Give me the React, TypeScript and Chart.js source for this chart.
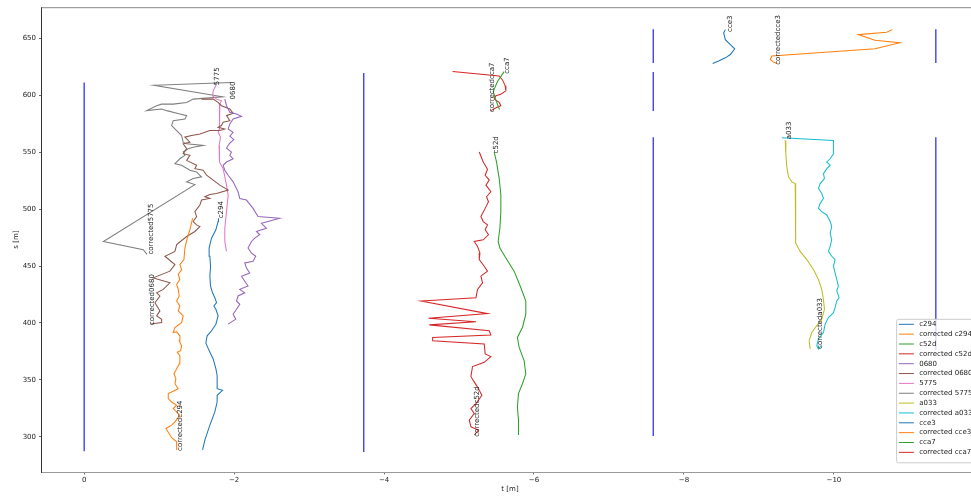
import { useEffect, useRef } from "react";
import { Chart, registerables } from "chart.js";

Chart.register(...registerables);

const FONT = '"DejaVu Sans", sans-serif';

// ---- axes ----
const X_TICKS = [0, -2, -4, -6, -8, -10];
const Y_TICKS = [300, 350, 400, 450, 500, 550, 600, 650];
const X_MIN = -11.93;
const X_MAX = 0.57;
const Y_MIN = 269;
const Y_MAX = 677.5;

// ---- series (t = lateral position [m], s = station [m]) ----
const C294_T = [-1.580,-1.610,-1.677,-1.743,-1.774,-1.774,-1.846,-1.774,-1.774,-1.774,-1.757,-1.721,-1.667,-1.623,-1.641,-1.699,-1.757,-1.787,-1.757,-1.730,-1.766,-1.743,-1.713,-1.686,-1.677,-1.686,-1.677,-1.667,-1.699,-1.757,-1.787,-1.792];
const C294_S = [288.4,297.1,310.2,321.8,330.5,336.4,340.8,342.2,348.0,353.8,359.9,368.4,375.7,382.4,388.7,393.1,398.9,406.2,412.0,414.9,417.8,422.2,426.5,432.4,441.1,449.8,458.6,465.8,474.5,481.9,489.1,492.0];

const CC294_T = [-1.234,-1.234,-1.167,-1.091,-1.167,-1.211,-1.277,-1.188,-1.234,-1.167,-1.122,-1.122,-1.188,-1.255,-1.211,-1.224,-1.198,-1.234,-1.268,-1.277,-1.242,-1.287,-1.300,-1.268,-1.277,-1.234,-1.188,-1.211,-1.300,-1.321,-1.255,-1.277,-1.234,-1.268,-1.255,-1.234,-1.277,-1.255,-1.300,-1.277,-1.331,-1.344,-1.365,-1.388,-1.411,-1.446];
const CC294_S = [288.4,295.6,299.1,307.3,310.2,313.1,318.9,324.8,327.7,330.5,333.5,337.9,339.9,342.2,346.6,351.0,355.3,359.7,364.0,371.3,374.2,375.7,380.0,384.4,388.7,392.2,391.6,396.0,400.3,406.2,410.6,414.9,419.3,423.7,429.5,433.9,438.2,442.6,446.9,451.3,455.7,465.8,471.6,477.5,481.8,492.0];

const C52D_T = [-5.793,-5.793,-5.779,-5.793,-5.846,-5.891,-5.868,-5.802,-5.779,-5.846,-5.891,-5.891,-5.825,-5.735,-5.625,-5.545,-5.522,-5.545,-5.558,-5.558,-5.536,-5.500,-5.469];
const C52D_S = [301.5,314.6,326.2,337.9,346.6,355.3,366.9,378.5,387.3,396.0,407.7,419.3,430.9,445.5,457.1,465.8,471.6,483.2,497.8,512.4,526.9,541.5,550.2];

const CC52D_T = [-5.270,-5.323,-5.380,-5.349,-5.403,-5.359,-5.425,-5.367,-5.393,-5.349,-5.292,-5.323,-5.380,-5.349,-5.393,-5.323,-5.203,-5.247,-5.279,-5.270,-5.336,-5.380,-5.292,-5.314,-5.247,-5.226,-4.494,-5.380,-4.595,-5.226,-4.604,-5.403,-5.425,-4.648,-4.648,-5.336,-5.349,-5.425,-5.336,-5.180,-5.159,-5.190,-5.247,-5.305,-5.226,-5.159,-5.203,-5.137,-5.159,-5.260,-5.203];
const CC52D_S = [550.2,541.5,535.1,529.8,525.5,521.1,515.3,510.9,506.5,500.7,493.5,489.1,486.2,481.9,477.5,473.1,471.6,467.3,461.4,455.7,449.8,445.5,441.1,435.3,429.5,422.2,419.3,408.2,404.2,401.0,398.3,393.1,389.4,387.3,384.4,381.5,372.8,370.4,365.4,361.7,353.0,349.5,343.6,336.4,329.1,324.8,320.4,314.6,308.7,305.8,301.5];

const S0680_T = [-1.876,-1.899,-1.943,-2.032,-2.099,-1.987,-1.943,-1.921,-1.987,-1.943,-1.996,-1.934,-1.899,-1.965,-1.943,-1.987,-1.899,-1.854,-1.876,-1.921,-1.987,-2.053,-2.076,-2.165,-2.253,-2.319,-2.608,-2.365,-2.431,-2.298,-2.342,-2.276,-2.232,-2.186,-2.232,-2.289,-2.253,-2.142,-2.165,-2.209,-2.099,-2.142,-2.186,-2.076,-2.142,-2.053,-2.032,-2.076,-2.032,-1.987,-2.023,-1.921];
const S0680_S = [596.7,590.9,585.1,583.6,581.6,579.2,574.9,570.5,567.6,564.1,561.3,557.4,553.7,550.2,547.3,544.3,541.4,538.6,534.2,529.8,524.0,515.3,509.4,508.0,500.7,493.5,492.0,487.6,483.2,480.4,477.5,474.5,471.6,465.8,461.4,458.6,454.2,452.7,448.3,444.0,441.1,436.7,432.4,429.5,426.5,423.7,419.3,416.4,412.0,407.7,403.3,399.0];

const C0680_T = [-1.566,-1.721,-1.787,-1.832,-1.943,-1.987,-1.899,-1.943,-1.854,-1.832,-1.787,-1.876,-1.810,-1.677,-1.544,-1.433,-1.344,-1.411,-1.321,-1.367,-1.321,-1.411,-1.367,-1.500,-1.477,-1.588,-1.633,-1.721,-1.810,-1.921,-1.766,-1.677,-1.610,-1.677,-1.566,-1.544,-1.477,-1.500,-1.454,-1.500,-1.544,-1.477,-1.367,-1.234,-1.211,-1.078,-1.211,-1.144,-0.922,-1.144,-1.055,-0.967,-1.011,-0.945,-1.011,-0.967,-1.034,-1.034,-0.888];
const C0680_S = [596.7,596.7,593.8,590.9,588.0,584.2,582.2,577.8,576.4,573.5,572.0,570.5,569.1,569.1,566.1,564.7,563.3,558.9,557.4,553.1,548.7,547.3,542.9,538.6,535.6,534.2,529.8,525.5,521.1,516.8,513.8,512.9,510.9,509.4,508.0,503.7,497.8,493.5,489.1,486.2,484.7,480.4,476.0,468.8,462.9,458.6,451.3,445.5,439.6,435.3,429.5,426.5,423.7,417.8,410.6,406.2,403.3,400.3,399.0];

const S5775_T = [-1.766,-1.721,-1.713,-1.766,-1.832,-1.810,-1.800,-1.810,-1.787,-1.819,-1.800,-1.810,-1.800,-1.854,-1.899,-1.921,-1.899,-1.876,-1.876,-1.899];
const S5775_S = [609.8,604.0,599.7,596.7,595.3,592.3,582.2,570.5,567.6,563.3,556.0,547.3,541.5,535.6,521.1,512.4,497.8,483.2,471.6,462.9];

const C5775_T = [-1.965,-0.931,-1.846,-1.454,-1.367,-1.188,-1.034,-0.967,-0.834,-1.034,-1.101,-1.277,-1.367,-1.344,-1.188,-1.167,-1.234,-1.300,-1.321,-1.367,-1.588,-1.454,-1.388,-1.321,-1.344,-1.277,-1.211,-1.300,-1.411,-1.500,-1.544,-1.566,-1.454,-1.367,-1.477,-0.257,-0.789,-0.838];
const C5775_S = [611.3,608.9,598.8,596.7,593.8,592.3,592.3,590.9,586.6,588.0,586.6,583.6,582.2,579.2,577.8,573.5,569.1,564.7,558.9,557.4,556.0,554.5,553.1,550.2,547.3,544.3,540.0,538.6,534.2,532.7,529.8,528.4,526.9,524.0,521.6,471.6,464.4,460.3];

const A033_T = [-9.351,-9.359,-9.372,-9.395,-9.439,-9.484,-9.492,-9.492,-9.492,-9.484,-9.550,-9.638,-9.727,-9.794,-9.838,-9.860,-9.874,-9.838,-9.771,-9.705,-9.670,-9.683];
const A033_S = [560.4,548.7,537.1,528.4,524.0,522.5,513.8,499.3,484.7,470.2,462.9,455.7,446.9,438.2,429.5,420.8,412.0,403.3,397.5,391.6,384.4,377.1];

const CA033_T = [-9.306,-9.994,-9.994,-9.950,-9.905,-9.950,-9.905,-9.861,-9.874,-9.817,-9.794,-9.838,-9.861,-9.817,-9.794,-9.838,-9.905,-9.950,-9.971,-9.950,-9.971,-9.950,-9.927,-9.971,-10.016,-9.994,-10.016,-10.038,-10.060,-10.038,-10.070,-10.038,-10.016,-9.994,-9.927,-9.883,-9.861,-9.794,-9.772,-9.794,-9.830];
const CA033_S = [562.7,560.4,548.7,544.3,541.5,538.6,535.6,531.2,526.9,522.5,518.2,513.8,509.4,505.1,500.7,497.8,494.9,489.1,484.7,478.9,473.1,467.3,462.9,458.6,455.7,449.8,444.0,438.2,432.4,428.0,422.2,419.3,413.4,409.1,404.7,399.0,391.6,385.9,380.0,377.1,380.0];

const CCE3_T = [-8.552,-8.530,-8.552,-8.619,-8.677,-8.619,-8.552,-8.463,-8.383];
const CCE3_S = [657.8,654.9,649.0,644.7,640.9,635.9,633.0,630.2,628.1];

const CCCE3_T = [-10.779,-10.703,-10.326,-10.548,-10.881,-10.548,-9.172,-9.151,-9.195,-9.239];
const CCCE3_S = [657.8,655.5,653.4,648.5,646.2,640.9,634.6,631.6,629.3,628.1];

const CCA7_T = [-5.602,-5.513,-5.456,-5.489,-5.540];
const CCA7_S = [620.9,612.2,603.4,596.3,587.6];

const CCCA7_T = [-4.914,-5.536,-5.580,-5.616,-5.625,-5.558,-5.492,-5.469,-5.536,-5.558,-5.500,-5.425];
const CCCA7_S = [620.9,617.1,613.6,608.4,604.0,601.0,599.7,596.7,593.8,590.9,589.4,586.6];

const SERIES_NAMES = ["c294","corrected c294","c52d","corrected c52d","0680","corrected 0680","5775","corrected 5775","a033","corrected a033","cce3","corrected cce3","cca7","corrected cca7"];
const SERIES_T = [C294_T, CC294_T, C52D_T, CC52D_T, S0680_T, C0680_T, S5775_T, C5775_T, A033_T, CA033_T, CCE3_T, CCCE3_T, CCA7_T, CCCA7_T];
const SERIES_S = [C294_S, CC294_S, C52D_S, CC52D_S, S0680_S, C0680_S, S5775_S, C5775_S, A033_S, CA033_S, CCE3_S, CCCE3_S, CCA7_S, CCCA7_S];
const PALETTE = ["#1f77b4","#ff7f0e","#2ca02c","#d62728","#9467bd","#8c564b","#e377c2","#7f7f7f","#bcbd22","#17becf"];

// ---- lane boundaries ----
const LANE_X = [0, -3.73, -7.59, -11.36];
const LANE_SEGMENTS = [
  [[287.3, 611.3]],
  [[286.6, 619.6]],
  [[628.5, 658.2], [586.2, 620.5], [300.6, 563.3]],
  [[628.5, 658.2], [376.5, 563.3]],
];

// ---- in-plot labels ----
const LABEL_TEXT = ["c294","correctedc294","c52d","correctedc52d","0680","corrected0680","5775","corrected5775","a033","correcteda033","cce3","correctedcce3","cca7","correctedcca7"];
const LABEL_T = [-1.776,-1.231,-5.455,-5.196,-1.936,-0.862,-1.730,-0.845,-9.362,-9.774,-8.576,-9.215,-5.596,-5.396];
const LABEL_S = [492.0,287.5,549.0,300.0,596.4,398.0,609.0,460.1,561.5,377.2,655.8,626.9,619.0,585.2];

const fmtX = (v: number) => (v < 0 ? "\u2212" + Math.abs(v) : String(v));

const labelsPlugin = {
  id: "inplotLabels",
  afterDatasetsDraw(chart: any) {
    const { ctx, scales } = chart;
    const xs = scales.x;
    const ys = scales.y;
    ctx.save();
    ctx.font = `7px ${FONT}`;
    ctx.fillStyle = "#222";
    ctx.textAlign = "left";
    ctx.textBaseline = "top";
    LABEL_TEXT.forEach((txt, i) => {
      const px = xs.getPixelForValue(LABEL_T[i]);
      const py = ys.getPixelForValue(LABEL_S[i]);
      ctx.save();
      ctx.translate(px, py);
      ctx.rotate(-Math.PI / 2);
      ctx.fillText(txt, 0, 0);
      ctx.restore();
    });
    ctx.restore();
  },
};

const framePlugin = {
  id: "frameAndLegend",
  afterDraw(chart: any) {
    const { ctx, chartArea } = chart;
    ctx.save();
    // top spine
    ctx.strokeStyle = "#888";
    ctx.lineWidth = 1;
    ctx.beginPath();
    ctx.moveTo(chartArea.left, chartArea.top + 0.5);
    ctx.lineTo(chartArea.right, chartArea.top + 0.5);
    ctx.stroke();

    // legend (matplotlib style, inside axes, lower right)
    ctx.font = `7px ${FONT}`;
    const maxW = Math.max(...SERIES_NAMES.map((n) => ctx.measureText(n).width));
    const rowH = 9.85;
    const w = 2.8 + 14 + 5.6 + maxW + 2.8;
    const h = 5.6 + rowH * SERIES_NAMES.length;
    const right = chartArea.right - 3.5;
    const left = right - w;
    const top = chartArea.bottom - 9.2 - h;
    ctx.beginPath();
    ctx.roundRect(left, top, w, h, 2);
    ctx.fillStyle = "rgba(255,255,255,0.8)";
    ctx.fill();
    ctx.strokeStyle = "#cccccc";
    ctx.lineWidth = 1;
    ctx.stroke();
    SERIES_NAMES.forEach((name, i) => {
      const cy = top + 5 + i * rowH;
      ctx.strokeStyle = PALETTE[i % PALETTE.length];
      ctx.lineWidth = 1;
      ctx.beginPath();
      ctx.moveTo(left + 2.3, cy);
      ctx.lineTo(left + 17.3, cy);
      ctx.stroke();
      ctx.fillStyle = "#222";
      ctx.textAlign = "left";
      ctx.textBaseline = "middle";
      ctx.fillText(name, left + 22.6, cy);
    });
    ctx.restore();
  },
};

export default function App() {
  const ref = useRef<HTMLCanvasElement | null>(null);

  useEffect(() => {
    if (!ref.current) return;
    const datasets: any[] = [];
    SERIES_NAMES.forEach((name, i) => {
      datasets.push({
        label: name,
        data: SERIES_T[i].map((t, k) => ({ x: t, y: SERIES_S[i][k] })),
        borderColor: PALETTE[i % PALETTE.length],
        backgroundColor: PALETTE[i % PALETTE.length],
        borderWidth: 1.05,
        showLine: true,
        pointRadius: 0,
        tension: 0,
      });
    });
    LANE_X.forEach((lx, i) => {
      LANE_SEGMENTS[i].forEach((seg) => {
        datasets.push({
          label: "lane",
          data: [{ x: lx, y: seg[0] }, { x: lx, y: seg[1] }],
          borderColor: "#0000ff",
          borderWidth: 1.05,
          showLine: true,
          pointRadius: 0,
        });
      });
    });

    const tickFont = { family: FONT, size: 7 };
    const chart = new Chart(ref.current, {
      type: "scatter",
      data: { datasets },
      plugins: [labelsPlugin, framePlugin],
      options: {
        responsive: false,
        animation: false,
        devicePixelRatio: 1,
        layout: { padding: { top: 5.7, right: 5.4, bottom: 0, left: 0 } },
        plugins: { legend: { display: false }, tooltip: { enabled: false } },
        scales: {
          x: {
            type: "linear",
            reverse: true,
            min: X_MIN,
            max: X_MAX,
            afterBuildTicks: (s: any) => {
              s.ticks = X_TICKS.map((v) => ({ value: v }));
            },
            afterFit: (s: any) => {
              s.height = 26;
            },
            ticks: {
              callback: (v: any) => fmtX(Number(v)),
              font: tickFont,
              color: "#222",
              padding: 2,
              maxRotation: 0,
              autoSkip: false,
            },
            grid: { drawOnChartArea: false, drawTicks: true, tickLength: 2.4, tickColor: "#444", lineWidth: 0.8 },
            border: { display: true, color: "#999", width: 1 },
            title: { display: true, text: "t [m]", font: tickFont, color: "#222", padding: { top: 0, bottom: 4.8 } },
          },
          y: {
            type: "linear",
            min: Y_MIN,
            max: Y_MAX,
            afterBuildTicks: (s: any) => {
              s.ticks = Y_TICKS.map((v) => ({ value: v }));
            },
            afterFit: (s: any) => {
              s.width = 41.4;
            },
            ticks: { font: tickFont, color: "#222", padding: 3, autoSkip: false },
            grid: { drawOnChartArea: false, drawTicks: true, tickLength: 2.4, tickColor: "#444", lineWidth: 0.8 },
            border: { display: true, color: "#333", width: 1 },
            title: { display: true, text: "s [m]", font: tickFont, color: "#222", padding: { top: 11.8, bottom: 0 } },
          },
        },
      } as any,
    });
    return () => chart.destroy();
  }, []);

  return (
    <div
      style={{
        position: "fixed",
        left: 0,
        top: 0,
        width: 971,
        height: 498,
        overflow: "hidden",
        background: "#fff",
      }}
    >
      <canvas ref={ref} width={984} height={498} style={{ width: 984, height: 498, display: "block" }} />
    </div>
  );
}
